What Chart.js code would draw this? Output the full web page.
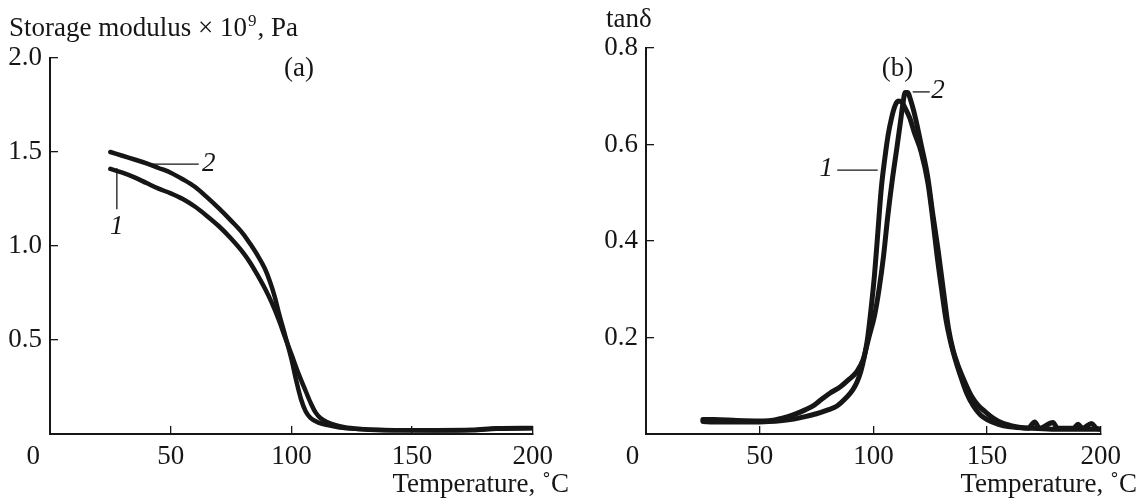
<!DOCTYPE html>
<html>
<head>
<meta charset="utf-8">
<title>Storage modulus and tanδ vs temperature</title>
<script src="https://cdn.jsdelivr.net/npm/chart.js@4.4.1/dist/chart.umd.min.js"></script>
<style>
  html, body { margin: 0; padding: 0; background: #fff; }
  #wrap { position: relative; width: 1138px; height: 499px; overflow: hidden; }
  canvas { position: absolute; top: 0; }
  #panelA { left: 0; }
  #panelB { left: 570px; }
</style>
</head>
<body>
<div id="wrap">
  <canvas id="panelA" width="570" height="499"></canvas>
  <canvas id="panelB" width="568" height="499"></canvas>
</div>
<script>
// ---- Panel (a): storage modulus, ×10^9 Pa ----
const tempA1 = [25, 30, 35, 40, 45, 50, 55, 60, 65, 70, 75, 80, 83, 86, 89, 92, 95, 97.5, 100, 103, 106, 108, 110, 112, 115, 118, 122, 128, 135, 145, 160, 175, 185, 200];
const modA1  = [1.41, 1.39, 1.365, 1.335, 1.305, 1.28, 1.25, 1.21, 1.16, 1.105, 1.04, 0.965, 0.91, 0.845, 0.775, 0.695, 0.60, 0.51, 0.425, 0.32, 0.226, 0.165, 0.115, 0.085, 0.062, 0.048, 0.036, 0.027, 0.022, 0.02, 0.019, 0.02, 0.028, 0.03];

const tempA2 = [25, 30, 35, 40, 45, 50, 55, 60, 65, 70, 75, 80, 83, 86, 89, 91, 93, 95, 97.5, 100, 102, 104, 106, 108, 111, 115, 120, 128, 135, 145, 160, 175, 185, 200];
const modA2  = [1.50, 1.48, 1.46, 1.44, 1.415, 1.39, 1.355, 1.315, 1.26, 1.20, 1.135, 1.065, 1.01, 0.95, 0.88, 0.815, 0.735, 0.635, 0.52, 0.40, 0.285, 0.185, 0.118, 0.085, 0.062, 0.047, 0.035, 0.026, 0.021, 0.02, 0.02, 0.022, 0.03, 0.032];

const xTicksA = [0, 50, 100, 150, 200];
const yTicksA = [0.5, 1.0, 1.5, 2.0];

// ---- Panel (b): loss tangent ----
const tempB1 = [25, 30, 40, 50, 60, 65, 70, 75, 80, 84, 88, 91, 93, 94.5, 96, 97.5, 99, 100.5, 102, 103.5, 105, 106.5, 108, 109.5, 111, 112.5, 114, 116, 118, 121, 124, 126, 128, 130, 132, 134, 136, 138, 141, 144, 147, 150, 155, 160, 170, 180, 190, 200];
const tanB1  = [0.026, 0.025, 0.025, 0.025, 0.028, 0.031, 0.036, 0.042, 0.05, 0.058, 0.075, 0.092, 0.11, 0.13, 0.16, 0.2, 0.26, 0.33, 0.42, 0.51, 0.57, 0.62, 0.655, 0.68, 0.69, 0.688, 0.675, 0.655, 0.625, 0.585, 0.52, 0.45, 0.37, 0.30, 0.235, 0.19, 0.155, 0.125, 0.085, 0.058, 0.04, 0.03, 0.02, 0.015, 0.012, 0.01, 0.01, 0.01];

const tempB2 = [25, 30, 40, 50, 55, 60, 65, 70, 74, 77, 81, 85.5, 89, 92.5, 95.5, 98, 100.5, 102.5, 104.5, 106.3, 108.3, 110.4, 112, 113, 114, 115, 116.5, 118.5, 121, 124, 126, 128.5, 131, 133, 135, 137, 140, 143, 146, 149.5, 153, 156.5, 160, 164, 168, 171, 173, 179, 181, 188, 190, 192, 196, 198, 200];
const tanB2  = [0.03, 0.03, 0.028, 0.027, 0.028, 0.033, 0.04, 0.05, 0.06, 0.071, 0.085, 0.098, 0.112, 0.128, 0.154, 0.2, 0.245, 0.3, 0.37, 0.45, 0.526, 0.595, 0.65, 0.685, 0.708, 0.708, 0.69, 0.655, 0.6, 0.53, 0.46, 0.38, 0.29, 0.22, 0.175, 0.145, 0.11, 0.08, 0.06, 0.045, 0.032, 0.023, 0.018, 0.014, 0.012, 0.025, 0.012, 0.024, 0.012, 0.012, 0.02, 0.012, 0.022, 0.012, 0.01];

const xTicksB = [0, 50, 100, 150, 200];
const yTicksB = [0.2, 0.4, 0.6, 0.8];

// Curve labels (italic numerals) with short leader lines, in data units
const leadersA = [
  { label: '2', from: [41.3, 1.435], to: [61.6, 1.435], at: [65.8, 1.435] },
  { label: '1', from: [27.7, 1.413], to: [27.7, 1.195], at: [27.7, 1.10] }
];
const leadersB = [
  { label: '1', from: [101.9, 0.547], to: [84.1, 0.547], at: [79.3, 0.549] },
  { label: '2', from: [117.3, 0.709], to: [124.8, 0.709], at: [128.4, 0.712] }
];

const INK = '#161616';
const SERIF = '"Liberation Serif", "Times New Roman", serif';
const FONT_SIZE = 27;

function pts(xs, ys) { return xs.map((x, i) => ({ x, y: ys[i] })); }

function curve(xs, ys, width) {
  return {
    data: pts(xs, ys),
    borderColor: INK,
    borderWidth: width,
    pointRadius: 0,
    showLine: true,
    fill: false,
    cubicInterpolationMode: 'monotone',
    borderCapStyle: 'round',
    borderJoinStyle: 'round'
  };
}

function axisX(ticks, zeroPad) {
  return {
    type: 'linear', position: 'bottom', min: 0, max: 200,
    afterBuildTicks: s => { s.ticks = ticks.map(v => ({ value: v })); },
    afterFit: s => { s.height = 65; },
    grid: { display: true, drawOnChartArea: false, drawTicks: true, tickLength: -8, color: INK, lineWidth: 1.3 },
    border: { display: true, color: INK, width: 2 },
    ticks: {
      color: INK, padding: 17, maxRotation: 0, autoSkip: false,
      font: { family: SERIF, size: FONT_SIZE, lineHeight: 1 },
      callback: v => (v === 0 ? '0' + zeroPad : String(v))
    }
  };
}

function axisY(max, ticks, width) {
  return {
    type: 'linear', position: 'left', min: 0, max: max,
    afterBuildTicks: s => { s.ticks = ticks.map(v => ({ value: v })); },
    afterFit: s => { s.width = width; },
    grid: { display: true, drawOnChartArea: false, drawTicks: true, tickLength: -8, color: INK, lineWidth: 1.3 },
    border: { display: true, color: INK, width: 2 },
    ticks: {
      color: INK, padding: 16, autoSkip: false,
      font: { family: SERIF, size: FONT_SIZE, lineHeight: 1 },
      callback: v => Number(v).toFixed(1)
    }
  };
}

function drawLeaders(ctx, xs, ys, leaders) {
  ctx.lineWidth = 1.3;
  ctx.font = `italic ${FONT_SIZE}px ${SERIF}`;
  ctx.textAlign = 'center';
  ctx.textBaseline = 'middle';
  leaders.forEach(l => {
    ctx.beginPath();
    ctx.moveTo(xs.getPixelForValue(l.from[0]), ys.getPixelForValue(l.from[1]));
    ctx.lineTo(xs.getPixelForValue(l.to[0]), ys.getPixelForValue(l.to[1]));
    ctx.stroke();
    ctx.fillText(l.label, xs.getPixelForValue(l.at[0]), ys.getPixelForValue(l.at[1]));
  });
}

const overlayA = {
  id: 'overlayA',
  afterDraw(chart) {
    const { ctx, scales: { x, y } } = chart;
    ctx.save();
    ctx.fillStyle = INK; ctx.strokeStyle = INK;
    // y-axis caption with superscript exponent
    ctx.font = `${FONT_SIZE}px ${SERIF}`;
    ctx.textAlign = 'left'; ctx.textBaseline = 'alphabetic';
    const head = 'Storage modulus × 10';
    ctx.fillText(head, 9, 36);
    const w1 = ctx.measureText(head).width;
    ctx.font = `17px ${SERIF}`;
    ctx.fillText('9', 9 + w1 + 1, 26);
    const w2 = ctx.measureText('9').width;
    ctx.font = `${FONT_SIZE}px ${SERIF}`;
    ctx.fillText(', Pa', 9 + w1 + w2 + 2, 36);
    // x-axis caption, flush with the last tick label
    ctx.textAlign = 'right';
    ctx.fillText('Temperature, ˚C', 569, 492);
    // panel tag
    ctx.textAlign = 'center'; ctx.textBaseline = 'middle';
    ctx.fillText('(a)', x.getPixelForValue(103.2), y.getPixelForValue(1.94));
    drawLeaders(ctx, x, y, leadersA);
    ctx.restore();
  }
};

const overlayB = {
  id: 'overlayB',
  afterDraw(chart) {
    const { ctx, scales: { x, y } } = chart;
    ctx.save();
    ctx.fillStyle = INK; ctx.strokeStyle = INK;
    ctx.font = `${FONT_SIZE}px ${SERIF}`;
    ctx.textAlign = 'left'; ctx.textBaseline = 'alphabetic';
    ctx.fillText('tanδ', 36, 27);
    ctx.textAlign = 'right';
    ctx.fillText('Temperature, ˚C', 567, 492);
    ctx.textAlign = 'center'; ctx.textBaseline = 'middle';
    ctx.fillText('(b)', x.getPixelForValue(110.6), y.getPixelForValue(0.757));
    drawLeaders(ctx, x, y, leadersB);
    ctx.restore();
  }
};

const common = {
  animation: false,
  responsive: false,
  events: [],
  plugins: { legend: { display: false }, tooltip: { enabled: false }, title: { display: false } }
};

new Chart(document.getElementById('panelA'), {
  type: 'scatter',
  data: { datasets: [curve(tempA1, modA1, 4.5), curve(tempA2, modA2, 4.5)] },
  options: Object.assign({}, common, {
    layout: { padding: { top: 58, right: 20, left: 0, bottom: 0 } },
    scales: { x: axisX(xTicksA, '     '), y: axisY(2.0, yTicksA, 50) }
  }),
  plugins: [overlayA]
});

new Chart(document.getElementById('panelB'), {
  type: 'scatter',
  data: { datasets: [curve(tempB1, tanB1, 5), curve(tempB2, tanB2, 5)] },
  options: Object.assign({}, common, {
    layout: { padding: { top: 48, right: 22, left: 0, bottom: 0 } },
    scales: { x: axisX(xTicksB, '    '), y: axisY(0.8, yTicksB, 76) }
  }),
  plugins: [overlayB]
});
</script>
</body>
</html>
